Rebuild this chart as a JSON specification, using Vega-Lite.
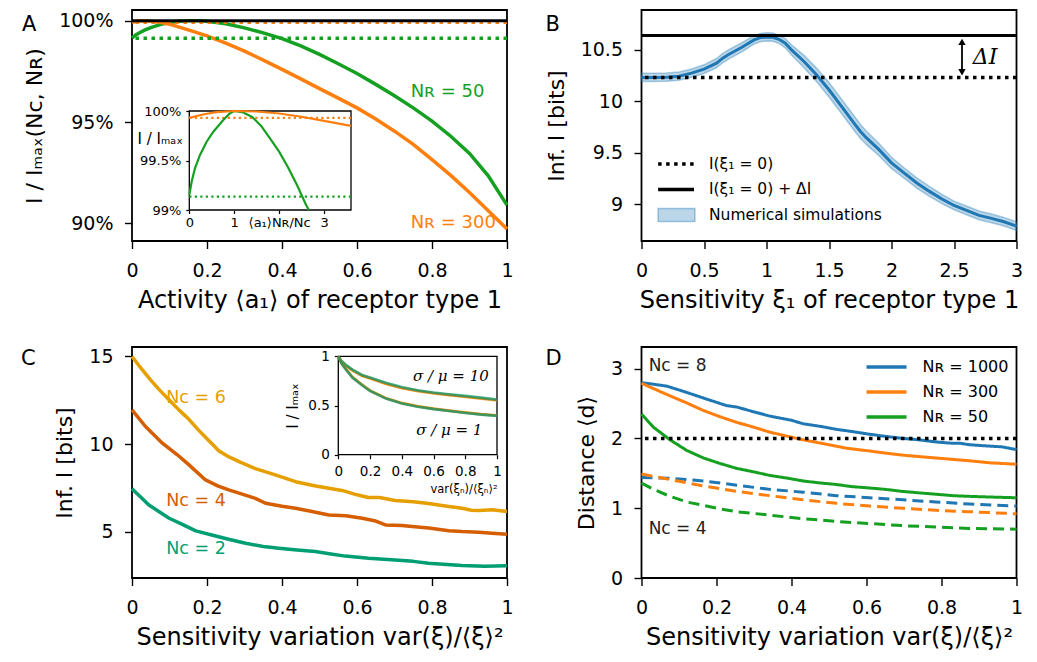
{
"$schema": "https://vega.github.io/schema/vega-lite/v6.json",
"background": "white",
"padding": {"left": 20, "top": 9, "right": 5, "bottom": 2},
"columns": 2,
"spacing": {"row": 106, "column": 134.5},
"bounds": "flush",
"resolve": {"scale": {"color": "independent", "strokeDash": "independent"}},
"datasets": {
"one": [{}],
"A_main": [
{"a":0,"v":0.9915,"NR":"50"},{"a":0.01,"v":0.9930,"NR":"50"},{"a":0.02,"v":0.9941,"NR":"50"},{"a":0.035,"v":0.9955,"NR":"50"},{"a":0.05,"v":0.9966,"NR":"50"},{"a":0.075,"v":0.9981,"NR":"50"},{"a":0.1,"v":0.9991,"NR":"50"},{"a":0.125,"v":0.9998,"NR":"50"},{"a":0.15,"v":1.0,"NR":"50"},{"a":0.175,"v":1.0,"NR":"50"},{"a":0.2,"v":0.9997,"NR":"50"},{"a":0.25,"v":0.9985,"NR":"50"},{"a":0.3,"v":0.9965,"NR":"50"},{"a":0.35,"v":0.9940,"NR":"50"},{"a":0.4,"v":0.9912,"NR":"50"},{"a":0.45,"v":0.9876,"NR":"50"},{"a":0.5,"v":0.9834,"NR":"50"},{"a":0.55,"v":0.9788,"NR":"50"},{"a":0.6,"v":0.9740,"NR":"50"},{"a":0.65,"v":0.9686,"NR":"50"},{"a":0.7,"v":0.9630,"NR":"50"},{"a":0.75,"v":0.9570,"NR":"50"},{"a":0.8,"v":0.9505,"NR":"50"},{"a":0.85,"v":0.9430,"NR":"50"},{"a":0.9,"v":0.9345,"NR":"50"},{"a":0.95,"v":0.9235,"NR":"50"},{"a":1.0,"v":0.9090,"NR":"50"},
{"a":0,"v":0.9993,"NR":"300"},{"a":0.015,"v":0.9998,"NR":"300"},{"a":0.03,"v":1.0,"NR":"300"},{"a":0.05,"v":0.9998,"NR":"300"},{"a":0.075,"v":0.9992,"NR":"300"},{"a":0.1,"v":0.9983,"NR":"300"},{"a":0.15,"v":0.9955,"NR":"300"},{"a":0.2,"v":0.9925,"NR":"300"},{"a":0.25,"v":0.9890,"NR":"300"},{"a":0.3,"v":0.9850,"NR":"300"},{"a":0.35,"v":0.9806,"NR":"300"},{"a":0.4,"v":0.9760,"NR":"300"},{"a":0.45,"v":0.9713,"NR":"300"},{"a":0.5,"v":0.9665,"NR":"300"},{"a":0.55,"v":0.9618,"NR":"300"},{"a":0.6,"v":0.9570,"NR":"300"},{"a":0.65,"v":0.9515,"NR":"300"},{"a":0.7,"v":0.9455,"NR":"300"},{"a":0.75,"v":0.9390,"NR":"300"},{"a":0.8,"v":0.9315,"NR":"300"},{"a":0.85,"v":0.9237,"NR":"300"},{"a":0.9,"v":0.9152,"NR":"300"},{"a":0.95,"v":0.9062,"NR":"300"},{"a":1.0,"v":0.8972,"NR":"300"}
],
"A_inset": [
{"u":0,"v":0.99152,"NR":"50"},{"u":0.052,"v":0.99286,"NR":"50"},{"u":0.126,"v":0.99421,"NR":"50"},{"u":0.238,"v":0.99556,"NR":"50"},{"u":0.386,"v":0.9969,"NR":"50"},{"u":0.535,"v":0.99791,"NR":"50"},{"u":0.757,"v":0.99909,"NR":"50"},{"u":0.9,"v":0.99975,"NR":"50"},{"u":1.0,"v":1.0,"NR":"50"},{"u":1.2,"v":0.99985,"NR":"50"},{"u":1.4,"v":0.9994,"NR":"50"},{"u":1.6,"v":0.9985,"NR":"50"},{"u":1.8,"v":0.9972,"NR":"50"},{"u":2.0,"v":0.9959,"NR":"50"},{"u":2.2,"v":0.9943,"NR":"50"},{"u":2.4,"v":0.9925,"NR":"50"},{"u":2.6,"v":0.9905,"NR":"50"},{"u":2.665,"v":0.9900,"NR":"50"},
{"u":0,"v":0.9993,"NR":"300"},{"u":0.3,"v":0.99965,"NR":"300"},{"u":0.6,"v":0.99988,"NR":"300"},{"u":1.0,"v":1.0,"NR":"300"},{"u":1.5,"v":0.99995,"NR":"300"},{"u":2.0,"v":0.99975,"NR":"300"},{"u":2.5,"v":0.99942,"NR":"300"},{"u":3.0,"v":0.9990,"NR":"300"},{"u":3.6,"v":0.9985,"NR":"300"}
],
"B_sim": [
{"xi":0,"m":10.232,"lo":10.192,"hi":10.272},{"xi":0.1,"m":10.232,"lo":10.192,"hi":10.272},{"xi":0.2,"m":10.235,"lo":10.195,"hi":10.275},{"xi":0.3,"m":10.245,"lo":10.205,"hi":10.285},{"xi":0.4,"m":10.274,"lo":10.234,"hi":10.314},{"xi":0.5,"m":10.313,"lo":10.271,"hi":10.355},{"xi":0.6,"m":10.371,"lo":10.326,"hi":10.416},{"xi":0.65,"m":10.42,"lo":10.375,"hi":10.465},{"xi":0.7,"m":10.458,"lo":10.413,"hi":10.503},{"xi":0.8,"m":10.523,"lo":10.478,"hi":10.568},{"xi":0.9,"m":10.597,"lo":10.557,"hi":10.637},{"xi":0.95,"m":10.619,"lo":10.579,"hi":10.659},{"xi":1.0,"m":10.626,"lo":10.586,"hi":10.666},{"xi":1.05,"m":10.623,"lo":10.583,"hi":10.663},{"xi":1.1,"m":10.603,"lo":10.563,"hi":10.643},{"xi":1.15,"m":10.565,"lo":10.52,"hi":10.61},{"xi":1.2,"m":10.5,"lo":10.45,"hi":10.55},{"xi":1.3,"m":10.387,"lo":10.327,"hi":10.447},{"xi":1.4,"m":10.258,"lo":10.193,"hi":10.323},{"xi":1.5,"m":10.113,"lo":10.043,"hi":10.183},{"xi":1.6,"m":9.952,"lo":9.882,"hi":10.022},{"xi":1.7,"m":9.79,"lo":9.72,"hi":9.86},{"xi":1.75,"m":9.71,"lo":9.642,"hi":9.778},{"xi":1.8,"m":9.645,"lo":9.58,"hi":9.71},{"xi":1.9,"m":9.532,"lo":9.472,"hi":9.592},{"xi":2.0,"m":9.403,"lo":9.348,"hi":9.458},{"xi":2.1,"m":9.306,"lo":9.256,"hi":9.356},{"xi":2.2,"m":9.21,"lo":9.16,"hi":9.26},{"xi":2.3,"m":9.129,"lo":9.081,"hi":9.177},{"xi":2.4,"m":9.055,"lo":9.01,"hi":9.1},{"xi":2.5,"m":8.99,"lo":8.948,"hi":9.032},{"xi":2.6,"m":8.942,"lo":8.9,"hi":8.984},{"xi":2.7,"m":8.894,"lo":8.852,"hi":8.936},{"xi":2.8,"m":8.865,"lo":8.823,"hi":8.907},{"xi":2.9,"m":8.832,"lo":8.79,"hi":8.874},{"xi":3.0,"m":8.79,"lo":8.748,"hi":8.832}
],
"C_main": [
{"x":0,"v":15.0,"Nc":"6"},{"x":0.025,"v":14.3,"Nc":"6"},{"x":0.05,"v":13.65,"Nc":"6"},{"x":0.075,"v":13.05,"Nc":"6"},{"x":0.1,"v":12.5,"Nc":"6"},{"x":0.125,"v":11.95,"Nc":"6"},{"x":0.15,"v":11.45,"Nc":"6"},{"x":0.175,"v":10.85,"Nc":"6"},{"x":0.2,"v":10.3,"Nc":"6"},{"x":0.232,"v":9.6,"Nc":"6"},{"x":0.26,"v":9.25,"Nc":"6"},{"x":0.29,"v":8.95,"Nc":"6"},{"x":0.329,"v":8.6,"Nc":"6"},{"x":0.38,"v":8.25,"Nc":"6"},{"x":0.436,"v":7.85,"Nc":"6"},{"x":0.49,"v":7.6,"Nc":"6"},{"x":0.525,"v":7.48,"Nc":"6"},{"x":0.56,"v":7.35,"Nc":"6"},{"x":0.6,"v":7.1,"Nc":"6"},{"x":0.63,"v":6.95,"Nc":"6"},{"x":0.66,"v":6.95,"Nc":"6"},{"x":0.702,"v":6.78,"Nc":"6"},{"x":0.75,"v":6.7,"Nc":"6"},{"x":0.791,"v":6.6,"Nc":"6"},{"x":0.84,"v":6.45,"Nc":"6"},{"x":0.88,"v":6.33,"Nc":"6"},{"x":0.905,"v":6.22,"Nc":"6"},{"x":0.925,"v":6.2,"Nc":"6"},{"x":0.96,"v":6.25,"Nc":"6"},{"x":1.0,"v":6.15,"Nc":"6"},
{"x":0,"v":11.95,"Nc":"4"},{"x":0.036,"v":11.0,"Nc":"4"},{"x":0.081,"v":10.05,"Nc":"4"},{"x":0.12,"v":9.4,"Nc":"4"},{"x":0.152,"v":8.81,"Nc":"4"},{"x":0.196,"v":7.95,"Nc":"4"},{"x":0.23,"v":7.6,"Nc":"4"},{"x":0.258,"v":7.38,"Nc":"4"},{"x":0.3,"v":7.1,"Nc":"4"},{"x":0.329,"v":6.9,"Nc":"4"},{"x":0.356,"v":6.62,"Nc":"4"},{"x":0.4,"v":6.45,"Nc":"4"},{"x":0.436,"v":6.33,"Nc":"4"},{"x":0.48,"v":6.15,"Nc":"4"},{"x":0.525,"v":5.95,"Nc":"4"},{"x":0.57,"v":5.9,"Nc":"4"},{"x":0.614,"v":5.76,"Nc":"4"},{"x":0.65,"v":5.6,"Nc":"4"},{"x":0.676,"v":5.38,"Nc":"4"},{"x":0.72,"v":5.35,"Nc":"4"},{"x":0.747,"v":5.29,"Nc":"4"},{"x":0.791,"v":5.2,"Nc":"4"},{"x":0.845,"v":5.05,"Nc":"4"},{"x":0.88,"v":5.0,"Nc":"4"},{"x":0.925,"v":4.96,"Nc":"4"},{"x":0.96,"v":4.9,"Nc":"4"},{"x":1.0,"v":4.85,"Nc":"4"},
{"x":0,"v":7.44,"Nc":"2"},{"x":0.045,"v":6.52,"Nc":"2"},{"x":0.099,"v":5.76,"Nc":"2"},{"x":0.13,"v":5.45,"Nc":"2"},{"x":0.17,"v":5.04,"Nc":"2"},{"x":0.223,"v":4.75,"Nc":"2"},{"x":0.26,"v":4.55,"Nc":"2"},{"x":0.303,"v":4.33,"Nc":"2"},{"x":0.35,"v":4.15,"Nc":"2"},{"x":0.392,"v":4.05,"Nc":"2"},{"x":0.44,"v":3.95,"Nc":"2"},{"x":0.489,"v":3.86,"Nc":"2"},{"x":0.53,"v":3.72,"Nc":"2"},{"x":0.569,"v":3.6,"Nc":"2"},{"x":0.631,"v":3.48,"Nc":"2"},{"x":0.702,"v":3.38,"Nc":"2"},{"x":0.75,"v":3.3,"Nc":"2"},{"x":0.791,"v":3.19,"Nc":"2"},{"x":0.84,"v":3.12,"Nc":"2"},{"x":0.88,"v":3.06,"Nc":"2"},{"x":0.94,"v":3.02,"Nc":"2"},{"x":1.0,"v":3.05,"Nc":"2"}
],
"C_inset": [
{"x":0,"v":1.0,"Nc":"6","sig":"10"},{"x":0.02,"v":0.945,"Nc":"6","sig":"10"},{"x":0.05,"v":0.9,"Nc":"6","sig":"10"},{"x":0.09,"v":0.855,"Nc":"6","sig":"10"},{"x":0.15,"v":0.8,"Nc":"6","sig":"10"},{"x":0.2,"v":0.775,"Nc":"6","sig":"10"},{"x":0.3,"v":0.72,"Nc":"6","sig":"10"},{"x":0.4,"v":0.677,"Nc":"6","sig":"10"},{"x":0.5,"v":0.645,"Nc":"6","sig":"10"},{"x":0.6,"v":0.622,"Nc":"6","sig":"10"},{"x":0.7,"v":0.604,"Nc":"6","sig":"10"},{"x":0.8,"v":0.587,"Nc":"6","sig":"10"},{"x":0.9,"v":0.57,"Nc":"6","sig":"10"},{"x":1.0,"v":0.551,"Nc":"6","sig":"10"},
{"x":0,"v":1.0,"Nc":"4","sig":"10"},{"x":0.02,"v":0.95,"Nc":"4","sig":"10"},{"x":0.05,"v":0.905,"Nc":"4","sig":"10"},{"x":0.09,"v":0.86,"Nc":"4","sig":"10"},{"x":0.15,"v":0.805,"Nc":"4","sig":"10"},{"x":0.2,"v":0.78,"Nc":"4","sig":"10"},{"x":0.3,"v":0.725,"Nc":"4","sig":"10"},{"x":0.4,"v":0.682,"Nc":"4","sig":"10"},{"x":0.5,"v":0.65,"Nc":"4","sig":"10"},{"x":0.6,"v":0.627,"Nc":"4","sig":"10"},{"x":0.7,"v":0.609,"Nc":"4","sig":"10"},{"x":0.8,"v":0.592,"Nc":"4","sig":"10"},{"x":0.9,"v":0.575,"Nc":"4","sig":"10"},{"x":1.0,"v":0.556,"Nc":"4","sig":"10"},
{"x":0,"v":1.0,"Nc":"2","sig":"10"},{"x":0.02,"v":0.956,"Nc":"2","sig":"10"},{"x":0.05,"v":0.911,"Nc":"2","sig":"10"},{"x":0.09,"v":0.866,"Nc":"2","sig":"10"},{"x":0.15,"v":0.811,"Nc":"2","sig":"10"},{"x":0.2,"v":0.786,"Nc":"2","sig":"10"},{"x":0.3,"v":0.731,"Nc":"2","sig":"10"},{"x":0.4,"v":0.688,"Nc":"2","sig":"10"},{"x":0.5,"v":0.656,"Nc":"2","sig":"10"},{"x":0.6,"v":0.633,"Nc":"2","sig":"10"},{"x":0.7,"v":0.615,"Nc":"2","sig":"10"},{"x":0.8,"v":0.598,"Nc":"2","sig":"10"},{"x":0.9,"v":0.581,"Nc":"2","sig":"10"},{"x":1.0,"v":0.562,"Nc":"2","sig":"10"},
{"x":0,"v":1.0,"Nc":"6","sig":"1"},{"x":0.02,"v":0.934,"Nc":"6","sig":"1"},{"x":0.05,"v":0.869,"Nc":"6","sig":"1"},{"x":0.09,"v":0.789,"Nc":"6","sig":"1"},{"x":0.15,"v":0.714,"Nc":"6","sig":"1"},{"x":0.2,"v":0.654,"Nc":"6","sig":"1"},{"x":0.3,"v":0.577,"Nc":"6","sig":"1"},{"x":0.4,"v":0.527,"Nc":"6","sig":"1"},{"x":0.5,"v":0.494,"Nc":"6","sig":"1"},{"x":0.6,"v":0.47,"Nc":"6","sig":"1"},{"x":0.7,"v":0.45,"Nc":"6","sig":"1"},{"x":0.8,"v":0.431,"Nc":"6","sig":"1"},{"x":0.9,"v":0.414,"Nc":"6","sig":"1"},{"x":1.0,"v":0.401,"Nc":"6","sig":"1"},
{"x":0,"v":1.0,"Nc":"4","sig":"1"},{"x":0.02,"v":0.93,"Nc":"4","sig":"1"},{"x":0.05,"v":0.865,"Nc":"4","sig":"1"},{"x":0.09,"v":0.785,"Nc":"4","sig":"1"},{"x":0.15,"v":0.71,"Nc":"4","sig":"1"},{"x":0.2,"v":0.65,"Nc":"4","sig":"1"},{"x":0.3,"v":0.573,"Nc":"4","sig":"1"},{"x":0.4,"v":0.523,"Nc":"4","sig":"1"},{"x":0.5,"v":0.49,"Nc":"4","sig":"1"},{"x":0.6,"v":0.466,"Nc":"4","sig":"1"},{"x":0.7,"v":0.446,"Nc":"4","sig":"1"},{"x":0.8,"v":0.427,"Nc":"4","sig":"1"},{"x":0.9,"v":0.41,"Nc":"4","sig":"1"},{"x":1.0,"v":0.397,"Nc":"4","sig":"1"},
{"x":0,"v":1.0,"Nc":"2","sig":"1"},{"x":0.02,"v":0.928,"Nc":"2","sig":"1"},{"x":0.05,"v":0.862,"Nc":"2","sig":"1"},{"x":0.09,"v":0.782,"Nc":"2","sig":"1"},{"x":0.15,"v":0.707,"Nc":"2","sig":"1"},{"x":0.2,"v":0.648,"Nc":"2","sig":"1"},{"x":0.3,"v":0.571,"Nc":"2","sig":"1"},{"x":0.4,"v":0.521,"Nc":"2","sig":"1"},{"x":0.5,"v":0.488,"Nc":"2","sig":"1"},{"x":0.6,"v":0.464,"Nc":"2","sig":"1"},{"x":0.7,"v":0.444,"Nc":"2","sig":"1"},{"x":0.8,"v":0.425,"Nc":"2","sig":"1"},{"x":0.9,"v":0.408,"Nc":"2","sig":"1"},{"x":1.0,"v":0.395,"Nc":"2","sig":"1"}
],
"D": [
{"x":0,"d":2.80,"NR":"Nʀ = 1000","NC":"8"},{"x":0.067,"d":2.75,"NR":"Nʀ = 1000","NC":"8"},{"x":0.12,"d":2.66,"NR":"Nʀ = 1000","NC":"8"},{"x":0.17,"d":2.57,"NR":"Nʀ = 1000","NC":"8"},{"x":0.227,"d":2.47,"NR":"Nʀ = 1000","NC":"8"},{"x":0.254,"d":2.45,"NR":"Nʀ = 1000","NC":"8"},{"x":0.3,"d":2.38,"NR":"Nʀ = 1000","NC":"8"},{"x":0.342,"d":2.32,"NR":"Nʀ = 1000","NC":"8"},{"x":0.4,"d":2.26,"NR":"Nʀ = 1000","NC":"8"},{"x":0.431,"d":2.21,"NR":"Nʀ = 1000","NC":"8"},{"x":0.48,"d":2.17,"NR":"Nʀ = 1000","NC":"8"},{"x":0.52,"d":2.13,"NR":"Nʀ = 1000","NC":"8"},{"x":0.56,"d":2.10,"NR":"Nʀ = 1000","NC":"8"},{"x":0.608,"d":2.06,"NR":"Nʀ = 1000","NC":"8"},{"x":0.65,"d":2.03,"NR":"Nʀ = 1000","NC":"8"},{"x":0.697,"d":2.0,"NR":"Nʀ = 1000","NC":"8"},{"x":0.74,"d":1.98,"NR":"Nʀ = 1000","NC":"8"},{"x":0.785,"d":1.95,"NR":"Nʀ = 1000","NC":"8"},{"x":0.83,"d":1.93,"NR":"Nʀ = 1000","NC":"8"},{"x":0.85,"d":1.93,"NR":"Nʀ = 1000","NC":"8"},{"x":0.874,"d":1.91,"NR":"Nʀ = 1000","NC":"8"},{"x":0.927,"d":1.89,"NR":"Nʀ = 1000","NC":"8"},{"x":0.96,"d":1.88,"NR":"Nʀ = 1000","NC":"8"},{"x":1.0,"d":1.84,"NR":"Nʀ = 1000","NC":"8"},
{"x":0,"d":2.79,"NR":"Nʀ = 300","NC":"8"},{"x":0.076,"d":2.61,"NR":"Nʀ = 300","NC":"8"},{"x":0.12,"d":2.51,"NR":"Nʀ = 300","NC":"8"},{"x":0.165,"d":2.40,"NR":"Nʀ = 300","NC":"8"},{"x":0.21,"d":2.31,"NR":"Nʀ = 300","NC":"8"},{"x":0.254,"d":2.23,"NR":"Nʀ = 300","NC":"8"},{"x":0.3,"d":2.16,"NR":"Nʀ = 300","NC":"8"},{"x":0.342,"d":2.09,"NR":"Nʀ = 300","NC":"8"},{"x":0.39,"d":2.03,"NR":"Nʀ = 300","NC":"8"},{"x":0.431,"d":1.98,"NR":"Nʀ = 300","NC":"8"},{"x":0.49,"d":1.92,"NR":"Nʀ = 300","NC":"8"},{"x":0.546,"d":1.86,"NR":"Nʀ = 300","NC":"8"},{"x":0.608,"d":1.82,"NR":"Nʀ = 300","NC":"8"},{"x":0.65,"d":1.79,"NR":"Nʀ = 300","NC":"8"},{"x":0.697,"d":1.76,"NR":"Nʀ = 300","NC":"8"},{"x":0.74,"d":1.74,"NR":"Nʀ = 300","NC":"8"},{"x":0.785,"d":1.72,"NR":"Nʀ = 300","NC":"8"},{"x":0.83,"d":1.70,"NR":"Nʀ = 300","NC":"8"},{"x":0.874,"d":1.68,"NR":"Nʀ = 300","NC":"8"},{"x":0.93,"d":1.65,"NR":"Nʀ = 300","NC":"8"},{"x":1.0,"d":1.63,"NR":"Nʀ = 300","NC":"8"},
{"x":0,"d":2.35,"NR":"Nʀ = 50","NC":"8"},{"x":0.032,"d":2.16,"NR":"Nʀ = 50","NC":"8"},{"x":0.076,"d":1.98,"NR":"Nʀ = 50","NC":"8"},{"x":0.12,"d":1.83,"NR":"Nʀ = 50","NC":"8"},{"x":0.165,"d":1.72,"NR":"Nʀ = 50","NC":"8"},{"x":0.21,"d":1.64,"NR":"Nʀ = 50","NC":"8"},{"x":0.254,"d":1.57,"NR":"Nʀ = 50","NC":"8"},{"x":0.3,"d":1.52,"NR":"Nʀ = 50","NC":"8"},{"x":0.342,"d":1.47,"NR":"Nʀ = 50","NC":"8"},{"x":0.39,"d":1.43,"NR":"Nʀ = 50","NC":"8"},{"x":0.431,"d":1.39,"NR":"Nʀ = 50","NC":"8"},{"x":0.48,"d":1.36,"NR":"Nʀ = 50","NC":"8"},{"x":0.52,"d":1.34,"NR":"Nʀ = 50","NC":"8"},{"x":0.56,"d":1.31,"NR":"Nʀ = 50","NC":"8"},{"x":0.608,"d":1.29,"NR":"Nʀ = 50","NC":"8"},{"x":0.65,"d":1.27,"NR":"Nʀ = 50","NC":"8"},{"x":0.697,"d":1.24,"NR":"Nʀ = 50","NC":"8"},{"x":0.74,"d":1.22,"NR":"Nʀ = 50","NC":"8"},{"x":0.785,"d":1.20,"NR":"Nʀ = 50","NC":"8"},{"x":0.83,"d":1.18,"NR":"Nʀ = 50","NC":"8"},{"x":0.874,"d":1.17,"NR":"Nʀ = 50","NC":"8"},{"x":0.93,"d":1.16,"NR":"Nʀ = 50","NC":"8"},{"x":1.0,"d":1.15,"NR":"Nʀ = 50","NC":"8"},
{"x":0,"d":1.44,"NR":"Nʀ = 1000","NC":"4"},{"x":0.076,"d":1.43,"NR":"Nʀ = 1000","NC":"4"},{"x":0.165,"d":1.39,"NR":"Nʀ = 1000","NC":"4"},{"x":0.254,"d":1.33,"NR":"Nʀ = 1000","NC":"4"},{"x":0.342,"d":1.27,"NR":"Nʀ = 1000","NC":"4"},{"x":0.431,"d":1.23,"NR":"Nʀ = 1000","NC":"4"},{"x":0.52,"d":1.18,"NR":"Nʀ = 1000","NC":"4"},{"x":0.608,"d":1.15,"NR":"Nʀ = 1000","NC":"4"},{"x":0.697,"d":1.12,"NR":"Nʀ = 1000","NC":"4"},{"x":0.785,"d":1.09,"NR":"Nʀ = 1000","NC":"4"},{"x":0.874,"d":1.06,"NR":"Nʀ = 1000","NC":"4"},{"x":1.0,"d":1.03,"NR":"Nʀ = 1000","NC":"4"},
{"x":0,"d":1.49,"NR":"Nʀ = 300","NC":"4"},{"x":0.076,"d":1.41,"NR":"Nʀ = 300","NC":"4"},{"x":0.165,"d":1.32,"NR":"Nʀ = 300","NC":"4"},{"x":0.254,"d":1.24,"NR":"Nʀ = 300","NC":"4"},{"x":0.342,"d":1.18,"NR":"Nʀ = 300","NC":"4"},{"x":0.431,"d":1.12,"NR":"Nʀ = 300","NC":"4"},{"x":0.52,"d":1.07,"NR":"Nʀ = 300","NC":"4"},{"x":0.608,"d":1.03,"NR":"Nʀ = 300","NC":"4"},{"x":0.697,"d":1.0,"NR":"Nʀ = 300","NC":"4"},{"x":0.785,"d":0.97,"NR":"Nʀ = 300","NC":"4"},{"x":0.874,"d":0.95,"NR":"Nʀ = 300","NC":"4"},{"x":1.0,"d":0.92,"NR":"Nʀ = 300","NC":"4"},
{"x":0,"d":1.36,"NR":"Nʀ = 50","NC":"4"},{"x":0.032,"d":1.27,"NR":"Nʀ = 50","NC":"4"},{"x":0.076,"d":1.17,"NR":"Nʀ = 50","NC":"4"},{"x":0.12,"d":1.09,"NR":"Nʀ = 50","NC":"4"},{"x":0.165,"d":1.04,"NR":"Nʀ = 50","NC":"4"},{"x":0.21,"d":0.99,"NR":"Nʀ = 50","NC":"4"},{"x":0.254,"d":0.95,"NR":"Nʀ = 50","NC":"4"},{"x":0.3,"d":0.925,"NR":"Nʀ = 50","NC":"4"},{"x":0.342,"d":0.90,"NR":"Nʀ = 50","NC":"4"},{"x":0.431,"d":0.85,"NR":"Nʀ = 50","NC":"4"},{"x":0.52,"d":0.81,"NR":"Nʀ = 50","NC":"4"},{"x":0.608,"d":0.78,"NR":"Nʀ = 50","NC":"4"},{"x":0.697,"d":0.75,"NR":"Nʀ = 50","NC":"4"},{"x":0.785,"d":0.73,"NR":"Nʀ = 50","NC":"4"},{"x":0.874,"d":0.71,"NR":"Nʀ = 50","NC":"4"},{"x":1.0,"d":0.70,"NR":"Nʀ = 50","NC":"4"}
]
},
"concat": [
{
"width": 375, "height": 231,
"title": {"text": "A", "dx": -110, "dy": 29},
"layer": [
{"layer": [
{"data": {"name": "A_main"}, "mark": {"type": "line", "strokeWidth": 3.5},
 "encoding": {
  "x": {"field": "a", "type": "quantitative", "scale": {"domain": [0, 1], "nice": false, "zero": false}, "axis": {"orient": "bottom", "values": [0, 0.2, 0.4, 0.6, 0.8, 1], "format": "~g", "title": "Activity ⟨a₁⟩ of receptor type 1"}},
  "y": {"field": "v", "type": "quantitative", "scale": {"domain": [0.8913, 1.0053], "nice": false, "zero": false}, "axis": {"orient": "left", "values": [0.9, 0.95, 1.0], "format": ".0%", "title": "I / Iₘₐₓ(Nᴄ, Nʀ)"}},
  "color": {"field": "NR", "type": "nominal", "scale": {"domain": ["50", "300"], "range": ["#16a022", "#ff7f0e"]}, "legend": null}
 }},
{"data": {"values": [{"v": 0.9993, "NR": "300"}, {"v": 0.9913, "NR": "50"}]}, "mark": {"type": "rule", "strokeWidth": 3.5, "strokeDash": [3.5, 4.5]}, "encoding": {"y": {"field": "v", "type": "quantitative"}, "color": {"field": "NR", "type": "nominal", "legend": null}}},
{"data": {"name": "one"}, "mark": {"type": "rule", "color": "black", "strokeWidth": 3}, "encoding": {"y": {"datum": 1.0, "type": "quantitative"}}},
{"data": {"values": [{"t": "Nʀ = 50", "a": 0.743, "v": 0.9648, "NR": "50"}, {"t": "Nʀ = 300", "a": 0.743, "v": 0.9, "NR": "300"}]}, "mark": {"type": "text", "align": "left", "baseline": "middle", "fontSize": 18}, "encoding": {"x": {"field": "a", "type": "quantitative"}, "y": {"field": "v", "type": "quantitative"}, "text": {"field": "t"}, "color": {"field": "NR", "type": "nominal", "legend": null}}}
]},
{"layer": [
{"data": {"name": "one"}, "mark": {"type": "rect", "fill": "white", "stroke": "black", "strokeWidth": 1.3},
 "encoding": {
  "x": {"datum": 0, "type": "quantitative", "scale": {"domain": [0, 3.6], "range": [57.3, 219], "nice": false, "zero": false}, "axis": {"orient": "bottom", "offset": -31, "values": [0, 1, 2, 3], "format": "~g", "labelExpr": "datum.value == 2 ? '⟨a₁⟩Nʀ/Nᴄ' : datum.label", "labelFontSize": 13, "tickSize": 3.5, "tickWidth": 1.2, "labelPadding": 3, "title": null}},
  "x2": {"datum": 3.6},
  "y": {"datum": 0.99, "type": "quantitative", "scale": {"domain": [0.99, 1.0], "range": [200, 101], "nice": false, "zero": false}, "axis": {"orient": "left", "offset": -57.3, "values": [0.99, 0.995, 1.0], "format": ".1~%", "labelFontSize": 13, "tickSize": 3.5, "tickWidth": 1.2, "labelPadding": 5, "title": "I / Iₘₐₓ", "titleAngle": 0, "titleX": -7, "titleY": 128, "titleAlign": "right", "titleBaseline": "middle", "titleFontSize": 15, "titlePadding": 0}},
  "y2": {"datum": 1.0}
 }},
{"data": {"values": [{"v": 0.9993, "NR": "300"}, {"v": 0.99135, "NR": "50"}]}, "mark": {"type": "rule", "strokeWidth": 2.2, "strokeDash": [2.2, 3.3]}, "encoding": {"x": {"datum": 0, "type": "quantitative"}, "x2": {"datum": 3.6}, "y": {"field": "v", "type": "quantitative"}, "color": {"field": "NR", "type": "nominal", "legend": null}}},
{"data": {"name": "A_inset"}, "mark": {"type": "line", "strokeWidth": 2.2}, "encoding": {"x": {"field": "u", "type": "quantitative"}, "y": {"field": "v", "type": "quantitative"}, "color": {"field": "NR", "type": "nominal", "legend": null}}}
]}
],
"resolve": {"scale": {"x": "independent", "y": "independent"}}
},
{
"width": 375, "height": 231,
"title": {"text": "B", "dx": -96, "dy": 29},
"layer": [
{"data": {"name": "B_sim"}, "mark": {"type": "area", "fill": "#1f77b4", "fillOpacity": 0.3, "stroke": "#1f77b4", "strokeOpacity": 0.35, "strokeWidth": 1.5},
 "encoding": {
  "x": {"field": "xi", "type": "quantitative", "scale": {"domain": [0, 3], "nice": false, "zero": false}, "axis": {"values": [0, 0.5, 1, 1.5, 2, 2.5, 3], "format": "~g", "title": "Sensitivity ξ₁ of receptor type 1"}},
  "y": {"field": "lo", "type": "quantitative", "scale": {"domain": [8.645, 10.887], "nice": false, "zero": false}, "axis": {"values": [9, 9.5, 10, 10.5], "format": "~g", "title": "Inf.  I  [bits]"}},
  "y2": {"field": "hi"}
 }},
{"data": {"name": "B_sim"}, "mark": {"type": "line", "color": "#1f77b4", "strokeWidth": 3}, "encoding": {"x": {"field": "xi", "type": "quantitative"}, "y": {"field": "m", "type": "quantitative"}}},
{"data": {"name": "one"}, "mark": {"type": "rule", "color": "black", "strokeWidth": 3}, "encoding": {"y": {"datum": 10.64, "type": "quantitative"}}},
{"data": {"name": "one"}, "mark": {"type": "rule", "color": "black", "strokeWidth": 3.5, "strokeDash": [3.5, 4.5]}, "encoding": {"y": {"datum": 10.232, "type": "quantitative"}}},
{"data": {"name": "one"}, "mark": {"type": "rule", "color": "black", "strokeWidth": 1.8}, "encoding": {"x": {"datum": 2.564, "type": "quantitative"}, "y": {"datum": 10.29, "type": "quantitative"}, "y2": {"datum": 10.57}}},
{"data": {"name": "one"}, "mark": {"type": "point", "shape": "triangle-up", "filled": true, "color": "black", "size": 55, "opacity": 1}, "encoding": {"x": {"datum": 2.564, "type": "quantitative"}, "y": {"datum": 10.578, "type": "quantitative"}}},
{"data": {"name": "one"}, "mark": {"type": "point", "shape": "triangle-down", "filled": true, "color": "black", "size": 55, "opacity": 1}, "encoding": {"x": {"datum": 2.564, "type": "quantitative"}, "y": {"datum": 10.283, "type": "quantitative"}}},
{"data": {"name": "one"}, "mark": {"type": "text", "text": "ΔI", "font": "DejaVu Serif", "fontStyle": "italic", "fontSize": 22, "align": "left", "baseline": "middle", "color": "black"}, "encoding": {"x": {"datum": 2.65, "type": "quantitative"}, "y": {"datum": 10.435, "type": "quantitative"}}},
{"data": {"name": "one"}, "mark": {"type": "rule", "color": "black", "strokeWidth": 3.5, "strokeDash": [3.5, 4.5]}, "encoding": {"x": {"datum": 0.133, "type": "quantitative"}, "x2": {"datum": 0.42}, "y": {"datum": 9.393, "type": "quantitative"}}},
{"data": {"name": "one"}, "mark": {"type": "rule", "color": "black", "strokeWidth": 3.5}, "encoding": {"x": {"datum": 0.133, "type": "quantitative"}, "x2": {"datum": 0.42}, "y": {"datum": 9.145, "type": "quantitative"}}},
{"data": {"name": "one"}, "mark": {"type": "rect", "fill": "#1f77b4", "fillOpacity": 0.3, "stroke": "#1f77b4", "strokeOpacity": 0.4, "strokeWidth": 1.5}, "encoding": {"x": {"datum": 0.133, "type": "quantitative"}, "x2": {"datum": 0.427}, "y": {"datum": 8.835, "type": "quantitative"}, "y2": {"datum": 8.96}}},
{"data": {"values": [{"t": "I(ξ₁ = 0)", "y": 9.393}, {"t": "I(ξ₁ = 0) + ΔI", "y": 9.145}, {"t": "Numerical simulations", "y": 8.895}]}, "mark": {"type": "text", "align": "left", "baseline": "middle", "fontSize": 15.5, "color": "black"}, "encoding": {"x": {"datum": 0.54, "type": "quantitative"}, "y": {"field": "y", "type": "quantitative"}, "text": {"field": "t"}}}
]
},
{
"width": 375, "height": 231,
"title": {"text": "C", "dx": -111, "dy": 25.5},
"layer": [
{"layer": [
{"data": {"name": "C_main"}, "mark": {"type": "line", "strokeWidth": 3.5, "strokeJoin": "round"},
 "encoding": {
  "x": {"field": "x", "type": "quantitative", "scale": {"domain": [0, 1], "nice": false, "zero": false}, "axis": {"orient": "bottom", "values": [0, 0.2, 0.4, 0.6, 0.8, 1], "format": "~g", "title": "Sensitivity variation var(ξ)/⟨ξ⟩²"}},
  "y": {"field": "v", "type": "quantitative", "scale": {"domain": [2.35, 15.54], "nice": false, "zero": false}, "axis": {"orient": "left", "values": [5, 10, 15], "format": "~g", "title": "Inf.  I  [bits]"}},
  "color": {"field": "Nc", "type": "nominal", "scale": {"domain": ["6", "4", "2"], "range": ["#e69f00", "#d55e00", "#009e73"]}, "legend": null}
 }},
{"data": {"values": [{"t": "Nᴄ = 6", "x": 0.091, "v": 12.62, "Nc": "6"}, {"t": "Nᴄ = 4", "x": 0.091, "v": 6.77, "Nc": "4"}, {"t": "Nᴄ = 2", "x": 0.091, "v": 4.01, "Nc": "2"}]}, "mark": {"type": "text", "align": "left", "baseline": "middle", "fontSize": 17.5}, "encoding": {"x": {"field": "x", "type": "quantitative"}, "y": {"field": "v", "type": "quantitative"}, "text": {"field": "t"}, "color": {"field": "Nc", "type": "nominal", "legend": null}}}
]},
{"layer": [
{"data": {"name": "one"}, "mark": {"type": "rect", "fill": "white", "stroke": "black", "strokeWidth": 1.3},
 "encoding": {
  "x": {"datum": 0, "type": "quantitative", "scale": {"domain": [0, 1], "range": [206.3, 365], "nice": false, "zero": false}, "axis": {"orient": "bottom", "offset": -123.3, "values": [0, 0.2, 0.4, 0.6, 0.8, 1], "format": "~g", "labelFontSize": 13.5, "tickSize": 4, "tickWidth": 1.2, "labelPadding": 6, "title": "var(ξₙ)/⟨ξₙ⟩²", "titleFontSize": 11.5, "titleAnchor": "end", "titlePadding": 5}},
  "x2": {"datum": 1},
  "y": {"datum": 0, "type": "quantitative", "scale": {"domain": [0, 1], "range": [107.7, 9.4], "nice": false, "zero": false}, "axis": {"orient": "left", "offset": -206.3, "values": [0, 0.5, 1], "format": "~g", "labelFontSize": 13.5, "tickSize": 4, "tickWidth": 1.2, "labelPadding": 5, "title": "I / Iₘₐₓ", "titleFontSize": 15, "titlePadding": 7}},
  "y2": {"datum": 1}
 }},
{"data": {"name": "C_inset"}, "mark": {"type": "line", "strokeWidth": 2.6, "opacity": 0.7}, "encoding": {"x": {"field": "x", "type": "quantitative"}, "y": {"field": "v", "type": "quantitative"}, "color": {"field": "Nc", "type": "nominal", "legend": null}, "detail": {"field": "sig"}}},
{"data": {"values": [{"t": "σ / μ = 10", "x": 0.948, "v": 0.797}, {"t": "σ / μ = 1", "x": 0.908, "v": 0.254}]}, "mark": {"type": "text", "align": "right", "baseline": "middle", "fontSize": 15, "font": "DejaVu Serif", "fontStyle": "italic", "color": "black"}, "encoding": {"x": {"field": "x", "type": "quantitative"}, "y": {"field": "v", "type": "quantitative"}, "text": {"field": "t"}}}
]}
],
"resolve": {"scale": {"x": "independent", "y": "independent"}}
},
{
"width": 375, "height": 231,
"title": {"text": "D", "dx": -96, "dy": 25.5},
"layer": [
{"data": {"name": "D"}, "mark": {"type": "line", "strokeWidth": 3, "strokeJoin": "round"},
 "encoding": {
  "x": {"field": "x", "type": "quantitative", "scale": {"domain": [0, 1], "nice": false, "zero": false}, "axis": {"values": [0, 0.2, 0.4, 0.6, 0.8, 1], "format": "~g", "title": "Sensitivity variation var(ξ)/⟨ξ⟩²"}},
  "y": {"field": "d", "type": "quantitative", "scale": {"domain": [0, 3.31], "nice": false, "zero": false}, "axis": {"values": [0, 1, 2, 3], "format": "~g", "title": "Distance ⟨d⟩"}},
  "color": {"field": "NR", "type": "nominal", "scale": {"domain": ["Nʀ = 1000", "Nʀ = 300", "Nʀ = 50"], "range": ["#1f77b4", "#ff7f0e", "#16a022"]}, "legend": {"orient": "top-right", "title": null, "offset": 8, "padding": 0, "symbolType": "M-2,0H2", "symbolSize": 400, "symbolStrokeWidth": 3.5, "labelFontSize": 16, "labelOffset": 24, "rowPadding": 5, "labelColor": "black"}},
  "strokeDash": {"field": "NC", "type": "nominal", "scale": {"domain": ["8", "4"], "range": [[1, 0], [11, 6]]}, "legend": null}
 }},
{"data": {"name": "one"}, "mark": {"type": "rule", "color": "black", "strokeWidth": 3.5, "strokeDash": [3.5, 4.5]}, "encoding": {"y": {"datum": 2.0, "type": "quantitative"}}},
{"data": {"values": [{"t": "Nᴄ = 8", "x": 0.019, "d": 3.04}, {"t": "Nᴄ = 4", "x": 0.019, "d": 0.7}]}, "mark": {"type": "text", "align": "left", "baseline": "middle", "fontSize": 17, "color": "#222222"}, "encoding": {"x": {"field": "x", "type": "quantitative"}, "y": {"field": "d", "type": "quantitative"}, "text": {"field": "t"}}}
]
}
],
"config": {
"font": "DejaVu Sans",
"view": {"stroke": "black", "strokeWidth": 1.8},
"axis": {"grid": false, "domain": false, "tickColor": "black", "tickWidth": 1.4, "tickSize": 7.5, "labelFontSize": 19, "labelColor": "black", "labelFlush": false, "labelOverlap": false, "titleFontWeight": "normal", "titleColor": "black"},
"axisX": {"labelPadding": 13, "titlePadding": 8, "titleFontSize": 24},
"axisY": {"labelPadding": 11.5, "titlePadding": 12, "titleFontSize": 22},
"title": {"anchor": "start", "frame": "group", "fontSize": 21, "fontWeight": "normal", "baseline": "alphabetic", "offset": 0, "color": "black"}
}
}
